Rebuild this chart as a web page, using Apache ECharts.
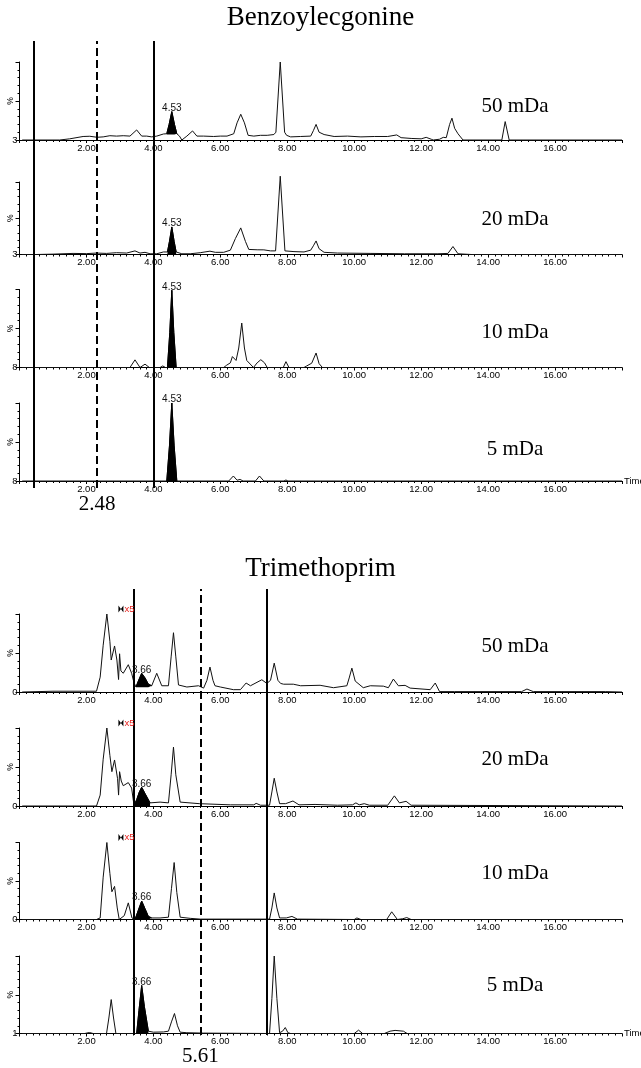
<!DOCTYPE html>
<html>
<head>
<meta charset="utf-8">
<script src="https://cdn.jsdelivr.net/npm/echarts@6/dist/echarts.min.js"></script>
<style>
  html, body { margin: 0; padding: 0; background: #fff; }
  #chart { width: 641px; height: 1068px; }
</style>
</head>
<body>
<div id="chart"></div>
<script>
// chromatogram traces: [time (min), % of panel scale]
const benz50 = [[0.08,0],[1.2,0],[1.5,1.5],[1.9,4.5],[2.1,4.8],[2.32,3.5],[2.5,4],[2.7,5.5],[2.9,5],[3.1,5.5],[3.3,5],[3.5,12.9],[3.65,5],[3.8,5],[3.95,4],[4.1,5],[4.3,7.7],[4.4,8],[4.47,20],[4.55,36.4],[4.63,20],[4.7,8],[4.78,5],[4.85,0],[5.0,5],[5.17,11.6],[5.3,5],[5.5,5],[5.8,4.5],[6.0,5],[6.2,5],[6.4,8],[6.5,22],[6.61,33],[6.72,22],[6.83,6],[7.0,5],[7.2,6],[7.4,6],[7.6,7],[7.66,10],[7.79,100],[7.92,10],[7.98,6],[8.1,4],[8.4,4.5],[8.7,5],[8.78,12],[8.86,20],[8.95,10],[9.1,7],[9.4,4.5],[9.8,5],[10.2,4],[10.6,4.5],[11.0,4.5],[11.27,6.5],[11.4,3],[11.7,2],[12.0,1.5],[12.15,3.4],[12.3,1],[12.36,0],[12.55,1],[12.66,3.4],[12.75,3],[12.85,20],[12.92,28],[13.0,15],[13.1,8],[13.25,0],[14.41,0],[14.51,23.6],[14.63,0],[18,0]];
const benz20 = [[0.08,0],[0.5,0],[1.0,0.5],[1.6,1.5],[2.0,1.2],[2.3,2],[2.6,1.5],[2.9,2.5],[3.2,2],[3.45,5],[3.6,2],[3.75,3],[3.9,1],[4.1,1],[4.3,3.5],[4.42,3.5],[4.48,18],[4.55,38],[4.62,18],[4.68,3.5],[4.85,1],[5.1,1],[5.4,2.5],[5.69,4.6],[5.85,3],[6.1,3],[6.3,6],[6.45,22],[6.61,36.7],[6.75,18],[6.85,7],[7.1,6.5],[7.3,6.4],[7.5,5],[7.65,5],[7.79,108],[7.93,5],[8.2,4],[8.5,3.5],[8.7,6],[8.78,12],[8.86,18.7],[8.95,8],[9.1,3],[9.5,2],[10.5,1.5],[11.5,1],[12.5,1],[12.8,1.5],[12.95,11],[13.1,1],[13.5,0],[18,0]];
const benz10 = [[0.08,0],[3.3,0],[3.45,9.8],[3.6,0],[3.75,4.3],[3.88,0],[4.2,0],[4.28,2],[4.36,0],[4.42,0],[4.49,45],[4.55,99],[4.61,45],[4.68,0],[5.7,0],[5.75,2],[5.82,0],[6.1,0],[6.19,3],[6.3,6],[6.36,14],[6.47,9],[6.55,25],[6.64,57],[6.72,25],[6.79,9],[6.99,0],[7.1,6],[7.21,10],[7.32,6],[7.4,0],[7.88,0],[7.96,7.5],[8.05,0],[8.5,0],[8.58,2],[8.73,5.5],[8.86,18.6],[8.95,5],[9.05,0],[18,0]];
const benz5 = [[0.08,0],[4.4,0],[4.48,45],[4.55,100],[4.62,45],[4.7,0],[6.25,0],[6.39,6.4],[6.5,1],[6.59,2],[6.68,0],[7.05,0],[7.17,6.4],[7.3,0],[7.9,0],[7.96,1.3],[8.02,0],[18,0]];
const tri50 = [[0.08,0],[1.0,1],[2.3,1],[2.41,19],[2.5,60],[2.61,100],[2.7,65],[2.74,41],[2.84,59],[2.91,41],[2.96,16],[2.99,49],[3.03,27],[3.1,24],[3.25,35],[3.35,24],[3.42,12],[3.48,6.4],[3.55,14],[3.65,24],[3.75,18],[3.85,10],[3.95,8],[4.1,24],[4.25,8],[4.45,8],[4.53,45],[4.6,76],[4.67,45],[4.75,9],[5.0,6.4],[5.35,8],[5.5,5],[5.6,15],[5.69,32],[5.78,15],[5.84,8],[6.0,6.4],[6.39,3],[6.6,3],[6.77,11.5],[6.9,8],[7.24,15.7],[7.39,11],[7.5,15],[7.61,37],[7.72,15],[7.8,11],[7.89,10],[8.18,10],[8.4,8],[8.98,8.6],[9.38,5.5],[9.78,8],[9.85,18],[9.93,30.6],[10.03,14],[10.27,5.5],[10.48,8],[10.87,7.5],[11.02,5.5],[11.17,16.6],[11.32,8],[11.52,8.5],[11.67,5],[12.27,3],[12.42,11.5],[12.55,0.5],[13,0.5],[15.0,0.5],[15.16,3.8],[15.35,0.5],[17.5,0.5],[18,0]];
const tri20 = [[0.08,0],[2.3,0],[2.41,14],[2.5,60],[2.61,100],[2.7,65],[2.76,44],[2.84,59],[2.93,35],[2.96,14],[2.99,44],[3.04,32],[3.1,26],[3.25,30],[3.35,23],[3.42,1],[3.5,8],[3.58,18],[3.65,24],[3.75,16],[3.9,4],[4.2,5],[4.45,4],[4.53,40],[4.6,75.5],[4.67,40],[4.8,5],[5.37,3],[6.3,1.5],[7.0,1.5],[7.07,3.4],[7.2,1],[7.47,1],[7.54,18],[7.61,35.6],[7.69,18],[7.77,3],[7.95,3],[8.17,6.4],[8.35,1.5],[8.83,2],[9.5,1],[9.95,1.5],[10.05,4],[10.15,1.5],[10.3,3],[10.45,1],[11.0,1],[11.2,13],[11.35,4],[11.55,6],[11.7,1],[18,0]];
const tri10 = [[0.08,0],[2.3,0],[2.41,2],[2.5,55],[2.61,100],[2.7,60],[2.76,36],[2.84,43],[2.92,15],[2.98,0],[3.13,5],[3.25,21.6],[3.36,2],[3.45,0],[3.55,12],[3.65,24],[3.75,14],[3.85,4],[3.95,2],[4.2,2],[4.45,3],[4.54,40],[4.62,74],[4.7,35],[4.8,3],[5.1,1.5],[5.4,0.5],[7.47,0.5],[7.54,15],[7.61,34.5],[7.69,15],[7.77,2],[7.97,2],[8.14,4],[8.3,0.5],[10.0,0],[10.08,2],[10.2,0],[10.97,0],[11.12,10],[11.29,0],[11.45,1],[11.57,2.5],[11.7,0],[18,0]];
const tri5 = [[0.08,0],[1.95,0],[2.09,1.3],[2.2,0],[2.6,0],[2.67,20],[2.74,43.8],[2.81,20],[2.88,0],[3.5,0],[3.57,30],[3.65,62],[3.73,35],[3.85,3],[4.0,1.7],[4.3,2],[4.45,3],[4.54,15],[4.63,25.8],[4.72,10],[4.8,1.7],[5.0,1],[5.5,0.5],[7.47,0],[7.54,45],[7.61,100],[7.69,45],[7.77,1],[7.86,3],[7.94,7.7],[8.02,1],[8.1,0],[10.0,0],[10.13,4.3],[10.25,0],[10.9,0],[11.07,3],[11.22,4],[11.47,3],[11.58,0],[18,0]];

// integrated (filled) peaks
const benz50Peak = [[4.4,8],[4.47,20],[4.55,36.4],[4.63,20],[4.7,8]];
const benz20Peak = [[4.42,3.5],[4.48,18],[4.55,38],[4.62,18],[4.68,3.5]];
const benz10Peak = [[4.42,0],[4.49,45],[4.55,99],[4.61,45],[4.68,0]];
const benz5Peak = [[4.4,0],[4.48,45],[4.55,100],[4.62,45],[4.7,0]];
const tri50Peak = [[3.48,6.4],[3.55,14],[3.65,24],[3.75,18],[3.85,10],[3.95,8]];
const tri20Peak = [[3.42,1],[3.5,8],[3.58,18],[3.65,24],[3.75,16],[3.9,4]];
const tri10Peak = [[3.45,0],[3.55,12],[3.65,24],[3.75,14],[3.85,4],[3.95,2]];
const tri5Peak = [[3.5,0],[3.57,30],[3.65,62],[3.73,35],[3.85,3]];
const peakBase = [7, 0, 0, 0, 6, 0, 0, 0];

const traces = [benz50, benz20, benz10, benz5, tri50, tri20, tri10, tri5];
const peaks = [benz50Peak, benz20Peak, benz10Peak, benz5Peak, tri50Peak, tri20Peak, tri10Peak, tri5Peak];
const panelLabels = ['50 mDa', '20 mDa', '10 mDa', '5 mDa', '50 mDa', '20 mDa', '10 mDa', '5 mDa'];
const baseLabels = ['3', '3', '8', '8', '0', '0', '0', '1'];
const peakLabels = ['4.53', '4.53', '4.53', '4.53', '3.66', '3.66', '3.66', '3.66'];
const compounds = ['Benzoylecgonine', 'Trimethoprim'];

// retention-time window lines (solid, dashed, solid) and dashed label
const benzLines = [0.43, 2.32, 4.02];
const triLines = [3.42, 5.40, 7.40];
const windowLabels = ['2.48', '5.61'];
const x5Mark = [3.03, 100];

// layout (px)
const panels = [
  { top: 62, h: 78, label: 107 },
  { top: 182, h: 72.5, label: 220 },
  { top: 289.5, h: 78, label: 333 },
  { top: 403, h: 78, label: 450 },
  { top: 614, h: 78, label: 647 },
  { top: 728, h: 78, label: 760 },
  { top: 842.5, h: 77, label: 874 },
  { top: 956, h: 77.5, label: 986 }
];
const overlays = [{ top: 41, h: 447, dist: 6 }, { top: 589, h: 446, dist: 11 }];
const LEFT = 19.5, RIGHT = 19;
const SANS = 'Liberation Sans', SERIF = 'Liberation Serif';

const chart = echarts.init(document.getElementById('chart'), null, { renderer: 'canvas' });

const grid = [], xAxis = [], yAxis = [], series = [], title = [];

title.push({ text: compounds[0], left: 'center', top: 4, padding: 0,
  textStyle: { fontFamily: SERIF, fontSize: 27, fontWeight: 'normal', color: '#000' } });
title.push({ text: compounds[1], left: 'center', top: 555, padding: 0,
  textStyle: { fontFamily: SERIF, fontSize: 27, fontWeight: 'normal', color: '#000' } });

traces.forEach((tr, i) => {
  const p = panels[i];
  const last = i === 3 || i === 7;
  grid.push({ left: LEFT, right: RIGHT, top: p.top, height: p.h, containLabel: false, outerBoundsMode: 'none' });
  xAxis.push({
    type: 'value', gridIndex: i, min: 0, max: 18, interval: 2,
    name: last ? 'Time' : '', nameLocation: 'end', nameGap: 2,
    nameTextStyle: { fontFamily: SANS, fontSize: 9.5, color: '#000' },
    axisLine: { show: true, lineStyle: { color: '#000', width: 1 } },
    axisTick: { show: true, length: 3, lineStyle: { color: '#000' } },
    minorTick: { show: true, splitNumber: 10, length: 2, lineStyle: { color: '#000' } },
    splitLine: { show: false },
    axisLabel: { showMinLabel: false, showMaxLabel: false, margin: 3,
      fontFamily: SANS, fontSize: 9.5, color: '#000', formatter: v => v.toFixed(2) }
  });
  yAxis.push({
    type: 'value', gridIndex: i, min: 0, max: 100, interval: 50,
    name: '%', nameLocation: 'middle', nameRotate: 90, nameGap: 4, nameMoveOverlap: false,
    nameTextStyle: { fontFamily: SANS, fontSize: 8.5, color: '#000' },
    axisLine: { show: true, lineStyle: { color: '#000', width: 1 } },
    axisTick: { show: true, length: 4, lineStyle: { color: '#000' } },
    minorTick: { show: true, splitNumber: 5, length: 2, lineStyle: { color: '#000' } },
    splitLine: { show: false },
    axisLabel: { margin: 2, fontFamily: SANS, fontSize: 9.5, color: '#000',
      formatter: v => (v === 0 ? baseLabels[i] : '') }
  });

  const traceSeries = {
    type: 'line', xAxisIndex: i, yAxisIndex: i, data: tr, showSymbol: false, symbol: 'none',
    clip: false, lineStyle: { color: '#111', width: 1 }, silent: true, z: 3
  };
  if (i >= 4 && i <= 6) {
    // "x5" magnification flag above the trace
    traceSeries.markPoint = {
      silent: true,
      symbol: 'path://M0,0L5,4L0,8ZM10,0L5,4L10,8Z',
      symbolSize: [5, 7],
      symbolOffset: [0, -5],
      itemStyle: { color: '#000' },
      label: { show: true, position: 'right', distance: 1, formatter: 'x5',
        fontFamily: SANS, fontSize: 9.5, color: '#e8211d' },
      data: [{ name: 'x5', coord: x5Mark }]
    };
  }
  series.push(traceSeries);

  const pk = peaks[i];
  const top = pk.reduce((a, b) => (b[1] > a[1] ? b : a));
  series.push({
    type: 'line', xAxisIndex: i, yAxisIndex: i, data: pk, showSymbol: false, symbol: 'none',
    clip: false, silent: true, z: 4,
    lineStyle: { color: '#000', width: 1 },
    areaStyle: { color: '#000', opacity: 1, origin: peakBase[i] },
    markPoint: {
      silent: true,
      data: [{ coord: top, symbol: 'circle', symbolSize: 1, itemStyle: { color: 'rgba(0,0,0,0)' },
        label: { show: true, position: 'top', distance: 0, offset: [0, 2], formatter: peakLabels[i],
          fontFamily: SANS, fontSize: 10, color: '#111' } }]
    }
  });

  title.push({ text: panelLabels[i], left: 515, textAlign: 'center', top: p.label - 11, padding: 0,
    textStyle: { fontFamily: SERIF, fontSize: 21, fontWeight: 'normal', color: '#000' } });
});

[benzLines, triLines].forEach((lines, k) => {
  const gi = 8 + k;
  const o = overlays[k];
  grid.push({ left: LEFT, right: RIGHT, top: o.top, height: o.h, containLabel: false, outerBoundsMode: 'none' });
  xAxis.push({ type: 'value', gridIndex: gi, min: 0, max: 18, show: false });
  yAxis.push({ type: 'value', gridIndex: gi, min: 0, max: 1, show: false });
  series.push({
    type: 'line', xAxisIndex: gi, yAxisIndex: gi, data: [], silent: true, z: 5,
    markLine: {
      silent: true, symbol: ['none', 'none'], animation: false,
      data: lines.map((x, j) => ({
        xAxis: x,
        lineStyle: { color: '#000', width: 2, type: j === 1 ? [8, 4] : 'solid' },
        label: j === 1
          ? { show: true, position: 'start', distance: o.dist, formatter: windowLabels[k],
              fontFamily: SERIF, fontSize: 21, color: '#000' }
          : { show: false }
      }))
    }
  });
});

chart.setOption({
  animation: false,
  backgroundColor: '#fff',
  title: title,
  grid: grid,
  xAxis: xAxis,
  yAxis: yAxis,
  series: series
});
</script>
</body>
</html>
